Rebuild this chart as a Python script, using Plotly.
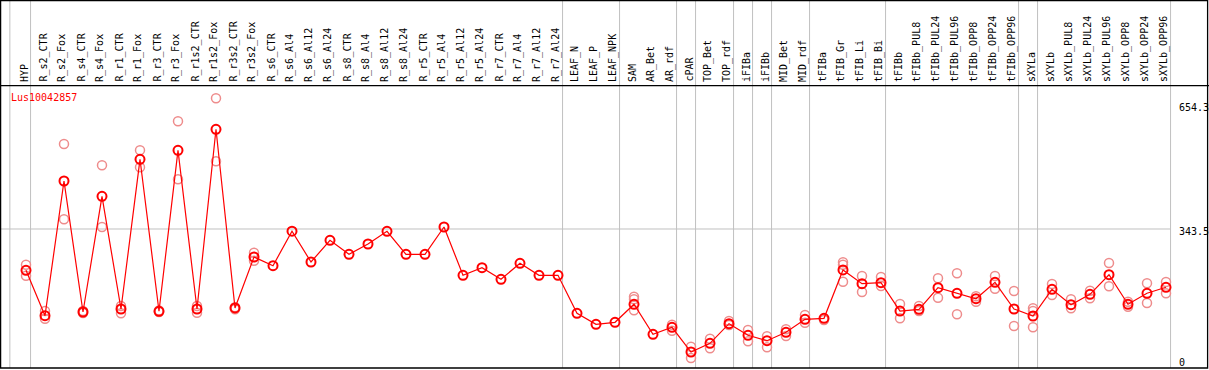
import plotly.graph_objects as go

gene = "Lus10042857"

categories = [
    "HYP", "R_s2_CTR", "R_s2_Fox", "R_s4_CTR", "R_s4_Fox", "R_r1_CTR", "R_r1_Fox",
    "R_r3_CTR", "R_r3_Fox", "R_r1s2_CTR", "R_r1s2_Fox", "R_r3s2_CTR", "R_r3s2_Fox",
    "R_s6_CTR", "R_s6_Al4", "R_s6_Al12", "R_s6_Al24", "R_s8_CTR", "R_s8_Al4",
    "R_s8_Al12", "R_s8_Al24", "R_r5_CTR", "R_r5_Al4", "R_r5_Al12", "R_r5_Al24",
    "R_r7_CTR", "R_r7_Al4", "R_r7_Al12", "R_r7_Al24", "LEAF_N", "LEAF_P", "LEAF_NPK",
    "SAM", "AR_Bet", "AR_rdf", "cPAR", "TOP_Bet", "TOP_rdf", "iFIBa", "iFIBb",
    "MID_Bet", "MID_rdf", "tFIBa", "tFIB_Gr", "tFIB_Li", "tFIB_Bi", "tFIBb",
    "tFIBb_PUL8", "tFIBb_PUL24", "tFIBb_PUL96", "tFIBb_OPP8", "tFIBb_OPP24",
    "tFIBb_OPP96", "sXYLa", "sXYLb", "sXYLb_PUL8", "sXYLb_PUL24", "sXYLb_PUL96",
    "sXYLb_OPP8", "sXYLb_OPP24", "sXYLb_OPP96",
]

mean_values = [
    241.4, 129.2, 462.1, 138.4, 424.3, 145.8, 515.7, 140.1, 537.9, 145.8, 589.8,
    148.3, 274.3, 252.8, 338.0, 261.9, 315.5, 281.0, 306.4, 337.8, 281.0, 281.0,
    348.4, 229.1, 247.8, 219.2, 258.7, 229.1, 229.1, 135.2, 108.0, 112.9, 157.4,
    83.3, 100.6, 39.5, 61.0, 109.5, 80.8, 67.5, 88.2, 120.3, 122.8, 242.2, 208.3,
    210.8, 140.8, 145.0, 198.4, 184.6, 171.2, 211.8, 145.8, 128.5, 194.5, 156.4,
    182.1, 230.5, 157.4, 184.6, 199.4,
]

rep_a = [
    255.3, 140.8, 553.5, 140.8, 500.9, 153.2, 537.9, 142.0, 609.6, 153.2, 666.4,
    150.0, 284.9, None, None, None, None, None, None, None, None, None,
    None, None, None, None, None, None, None, None, None, None, 176.2,
    None, 107.0, 52.6, 72.4, 116.1, 93.9, 78.3, 95.6, 131.0, 118.6, 261.2, 227.3,
    224.9, 158.2, 153.2, 221.6, 234.0, 177.2, 227.3, 190.3, 147.5, 207.6, 169.8,
    191.0, 259.5, 163.8, 209.3, 212.5,
]

rep_b = [
    228.1, 121.8, 367.4, 135.9, 348.4, 135.2, 495.9, 138.5, 466.3, 136.6, 510.8,
    145.0, 265.1, None, None, None, None, None, None, None, None, None,
    None, None, None, None, None, None, None, None, None, None, 142.6,
    None, 92.2, 24.7, 48.7, 106.3, 66.0, 51.2, 79.1, 111.9, None, 213.3, 187.8,
    202.6, 122.8, 140.8, 173.7, 132.7, 163.8, 196.0, 103.8, 100.6, 180.4, 147.5,
    172.2, 201.9, 151.5, 160.6, 184.6,
]

rep_c = [None] * 61
rep_c[32] = 169.8
rep_c[43] = 255.3
rep_c[53] = 140.8

# last category index of each group (grey separators)
group_ends = [0, 28, 31, 34, 35, 37, 38, 39, 41, 45, 52, 53, 60]

axis_ticks = [0, 343.5, 654.3]
axis_tick_labels = ["0", "343.5", "654.3"]

W, H = 1209, 370
FONT = "DejaVu Sans Mono"
xs = list(range(len(categories)))

fig = go.Figure()

rx, ry = [], []
for reps in (rep_a, rep_b, rep_c):
    for i, v in enumerate(reps):
        if v is not None:
            rx.append(i)
            ry.append(v)

fig.add_trace(go.Scatter(
    x=rx, y=ry, mode="markers",
    marker=dict(symbol="circle-open", size=9, color="rgb(238,140,140)",
                line=dict(width=1.5, color="rgb(238,140,140)")),
    hoverinfo="skip", showlegend=False,
))

fig.add_trace(go.Scatter(
    x=xs, y=mean_values, mode="lines+markers",
    line=dict(color="#ff0000", width=1.2),
    marker=dict(symbol="circle-open", size=9, color="#ff0000",
                line=dict(width=2, color="#ff0000")),
    showlegend=False,
))

shapes = []
grey = "#c0c0c0"
sep_off = 0.24
sep_positions = [-0.85] + [e + sep_off for e in group_ends]
for sx in sep_positions:
    shapes.append(dict(type="line", xref="x", yref="paper", x0=sx, x1=sx,
                       y0=(H - 368) / H, y1=1, line=dict(color=grey, width=1),
                       layer="below"))

shapes.append(dict(type="line", xref="paper", yref="y", x0=0,
                   x1=(1170.3) / W, y0=axis_ticks[1], y1=axis_ticks[1],
                   line=dict(color=grey, width=1), layer="below"))

shapes.append(dict(type="line", xref="paper", yref="paper", x0=0, x1=1,
                   y0=(H - 85.7) / H, y1=(H - 85.7) / H,
                   line=dict(color="black", width=1.3)))
shapes.append(dict(type="rect", xref="paper", yref="paper",
                   x0=0.6 / W, x1=1207.6 / W, y0=(H - 368) / H, y1=(H - 0.6) / H,
                   line=dict(color="black", width=1.3)))

annotations = []
for i, c in enumerate(categories):
    annotations.append(dict(
        x=i, xref="x", y=(H - 84) / H, yref="paper", text=c, textangle=-90,
        showarrow=False, xanchor="center", yanchor="bottom", xshift=-2,
        font=dict(family=FONT, size=10, color="black"),
    ))

annotations.append(dict(
    x=9 / W, xref="paper", y=(H - 97) / H, yref="paper", text=gene,
    showarrow=False, xanchor="left", yanchor="middle",
    font=dict(family=FONT, size=10, color="#ff0000"),
))

label_shift = [6, -3, -4]
for v, t, s in zip(axis_ticks, axis_tick_labels, label_shift):
    annotations.append(dict(
        x=1177 / W, xref="paper", y=v, yref="y", text=t, showarrow=False,
        xanchor="left", yanchor="middle", yshift=s,
        font=dict(family=FONT, size=10, color="black"),
    ))

x0 = -26 / 19
x1 = x0 + W / 19
px_per_unit = 0.4047
y_lo = -(H - 368) / px_per_unit
y_hi = 368 / px_per_unit

fig.update_layout(
    width=W, height=H,
    margin=dict(l=0, r=0, t=0, b=0, pad=0),
    paper_bgcolor="white", plot_bgcolor="white",
    xaxis=dict(range=[x0, x1], visible=False, fixedrange=True),
    yaxis=dict(range=[y_lo, y_hi], visible=False, fixedrange=True),
    shapes=shapes, annotations=annotations,
)

fig.write_html(
    "out.html",
    config={"displayModeBar": False},
    post_script="document.body.style.margin='0';document.body.style.overflow='hidden';",
)
